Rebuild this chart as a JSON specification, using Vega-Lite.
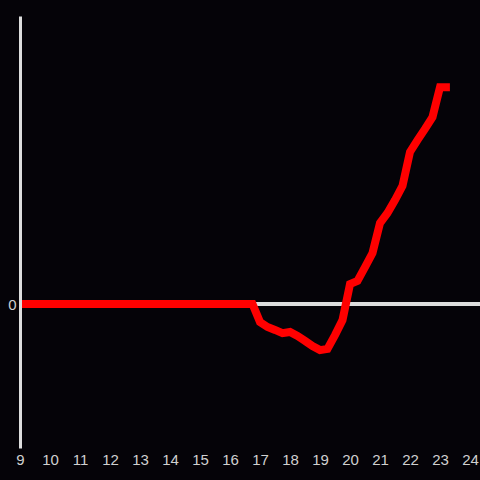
{
  "$schema": "https://vega.github.io/schema/vega-lite/v6.json",
  "width": 460,
  "height": 432,
  "autosize": {"type": "none"},
  "padding": {"left": 20, "top": 16, "right": 0, "bottom": 32},
  "background": "#050308",
  "config": {"view": {"stroke": null}},
  "data": {"values": [
    {"h": 9.0, "v": 0}, {"h": 9.25, "v": 0}, {"h": 9.5, "v": 0}, {"h": 9.75, "v": 0},
    {"h": 10.0, "v": 0}, {"h": 10.25, "v": 0}, {"h": 10.5, "v": 0}, {"h": 10.75, "v": 0},
    {"h": 11.0, "v": 0}, {"h": 11.25, "v": 0}, {"h": 11.5, "v": 0}, {"h": 11.75, "v": 0},
    {"h": 12.0, "v": 0}, {"h": 12.25, "v": 0}, {"h": 12.5, "v": 0}, {"h": 12.75, "v": 0},
    {"h": 13.0, "v": 0}, {"h": 13.25, "v": 0}, {"h": 13.5, "v": 0}, {"h": 13.75, "v": 0},
    {"h": 14.0, "v": 0}, {"h": 14.25, "v": 0}, {"h": 14.5, "v": 0}, {"h": 14.75, "v": 0},
    {"h": 15.0, "v": 0}, {"h": 15.25, "v": 0}, {"h": 15.5, "v": 0}, {"h": 15.75, "v": 0},
    {"h": 16.0, "v": 0}, {"h": 16.25, "v": 0}, {"h": 16.5, "v": 0}, {"h": 16.75, "v": 0},
    {"h": 17.0, "v": -6.3}, {"h": 17.25, "v": -8.0}, {"h": 17.5, "v": -9.0}, {"h": 17.75, "v": -10.1},
    {"h": 18.0, "v": -9.7}, {"h": 18.25, "v": -11.1}, {"h": 18.5, "v": -12.8}, {"h": 18.75, "v": -14.6},
    {"h": 19.0, "v": -16.0}, {"h": 19.25, "v": -15.6}, {"h": 19.5, "v": -10.8}, {"h": 19.75, "v": -5.6},
    {"h": 20.0, "v": 6.9}, {"h": 20.25, "v": 8.0}, {"h": 20.5, "v": 12.8}, {"h": 20.75, "v": 17.7},
    {"h": 21.0, "v": 28.1}, {"h": 21.25, "v": 31.6}, {"h": 21.5, "v": 36.1}, {"h": 21.75, "v": 41.0},
    {"h": 22.0, "v": 52.8}, {"h": 22.25, "v": 56.9}, {"h": 22.5, "v": 60.8}, {"h": 22.75, "v": 64.9},
    {"h": 23.0, "v": 75.3}, {"h": 23.33, "v": 75.3}
  ]},
  "layer": [
    {
      "mark": {"type": "rule", "color": "#dddddd", "strokeWidth": 3},
      "encoding": {"y": {"datum": 0, "type": "quantitative", "scale": {"domain": [-50, 100]}}}
    },
    {
      "mark": {"type": "line", "color": "#ff0000", "strokeWidth": 8, "strokeCap": "butt", "strokeJoin": "miter"},
      "encoding": {
        "x": {"field": "h", "type": "quantitative", "scale": {"domain": [9, 24.3333], "nice": false, "zero": false},
              "axis": {"values": [9,10,11,12,13,14,15,16,17,18,19,20,21,22,23,24], "title": null, "domain": false, "ticks": false, "grid": false,
                       "labelColor": "#d0d0d0", "labelFont": "Liberation Sans", "labelFontSize": 15, "labelPadding": 4, "labelFlush": false}},
        "y": {"field": "v", "type": "quantitative", "scale": {"domain": [-50, 100], "nice": false},
              "axis": {"values": [0], "title": null, "grid": false, "ticks": false, "domain": true, "domainColor": "#dddddd", "domainWidth": 3,
                       "labelColor": "#d0d0d0", "labelFont": "Liberation Sans", "labelFontSize": 15, "labelPadding": 4, "zindex": 1}}
      }
    }
  ]
}
